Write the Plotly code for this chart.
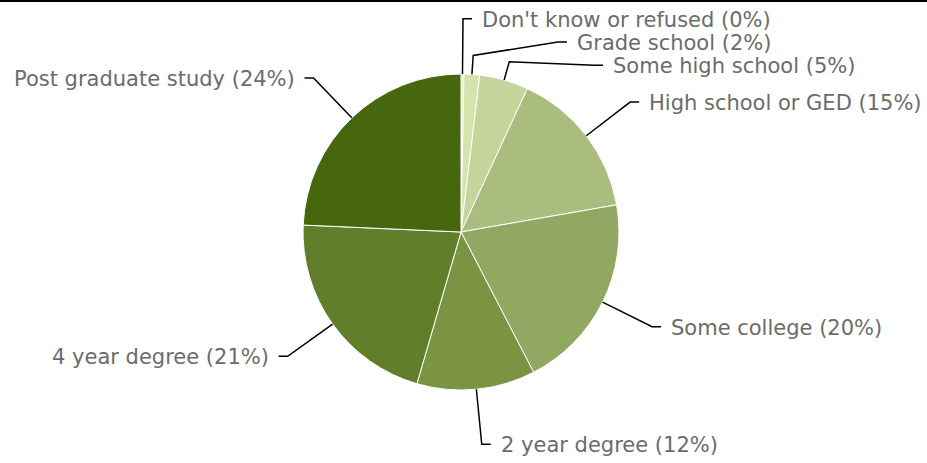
import math
import plotly.graph_objects as go

# ---- data ----
categories = [
    "Don't know or refused",
    "Grade school",
    "Some high school",
    "High school or GED",
    "Some college",
    "2 year degree",
    "4 year degree",
    "Post graduate study",
]
shares = [0.3, 1.6, 5.0, 15.35, 20.15, 12.1, 21.2, 24.3]
colors = ["#e2ecc2", "#d6e3ae", "#c4d49b", "#aabd7e", "#91a862", "#7a9444", "#617e2a", "#47670e"]

W, H = 927, 463
CX, CY, R = 461, 232, 158
FONT = "DejaVu Sans"
TEXT_COLOR = "#6b6b6b"

fig = go.Figure(go.Pie(
    labels=categories,
    values=shares,
    sort=False,
    direction="clockwise",
    rotation=0,
    textinfo="none",
    marker=dict(colors=colors, line=dict(color="white", width=1)),
    domain=dict(x=[(CX - R) / W, (CX + R) / W], y=[(H - CY - R) / H, (H - CY + R) / H]),
    hoverinfo="label+percent",
))

total = sum(shares)


def px(x):
    return x / W


def py(y):
    return 1 - y / H


# leader-line layout computed from the slice angles
R_OUT = 1.35 * R
R_BEND = 1.12 * R
SPACING = 23.3
items = []
cum = 0.0
for name, v in zip(categories, shares):
    mid = (cum + v / 2) / total
    cum += v
    th = 2 * math.pi * mid
    side = 1 if math.sin(th) >= 0 else -1
    nat_y = CY - R_OUT * math.cos(th)
    items.append(dict(name=name, pct=round(v / total * 100), th=th, side=side, nat_y=nat_y, y=nat_y))

for side in (1, -1):
    grp = sorted([it for it in items if it["side"] == side], key=lambda d: d["nat_y"])
    prev = None
    for it in grp:
        if prev is not None and it["y"] < prev + SPACING:
            it["y"] = prev + SPACING
        prev = it["y"]

shapes = [dict(type="rect", xref="paper", yref="paper", x0=0, x1=1, y0=1 - 2 / H, y1=1,
               fillcolor="black", line=dict(width=0))]
annotations = []
for it in items:
    th = it["th"]
    ex, ey = CX + R * math.sin(th), CY - R * math.cos(th)
    pts = [(ex, ey)]
    if abs(it["y"] - it["nat_y"]) > 0.5:
        pts.append((CX + R_BEND * math.sin(th), CY - R_BEND * math.cos(th)))
        dy = it["y"] - CY
        dx = math.sqrt(max(R_OUT ** 2 - dy ** 2, 0))
        pts.append((CX + it["side"] * dx, it["y"]))
    else:
        pts.append((CX + R_OUT * math.sin(th), it["y"]))
    hx = pts[-1][0] + it["side"] * 9
    pts.append((hx, it["y"]))
    path = "M " + " L ".join(f"{px(x):.5f},{py(y):.5f}" for x, y in pts)
    shapes.append(dict(type="path", xref="paper", yref="paper", path=path,
                       line=dict(color="black", width=1.5)))
    annotations.append(dict(
        x=px(hx + it["side"] * 8), y=py(it["y"] + 1), xref="paper", yref="paper",
        text=f"{it['name']} ({it['pct']}%)", showarrow=False,
        xanchor="left" if it["side"] > 0 else "right", yanchor="middle",
        font=dict(family=FONT, size=21, color=TEXT_COLOR),
    ))

fig.update_layout(
    width=W, height=H,
    margin=dict(l=0, r=0, t=0, b=0),
    paper_bgcolor="white",
    plot_bgcolor="white",
    showlegend=False,
    shapes=shapes,
    annotations=annotations,
    font=dict(family=FONT),
)

fig.write_html(
    "out.html",
    config={"displayModeBar": False},
    post_script="document.body.style.margin='0';document.body.style.padding='0';",
)
